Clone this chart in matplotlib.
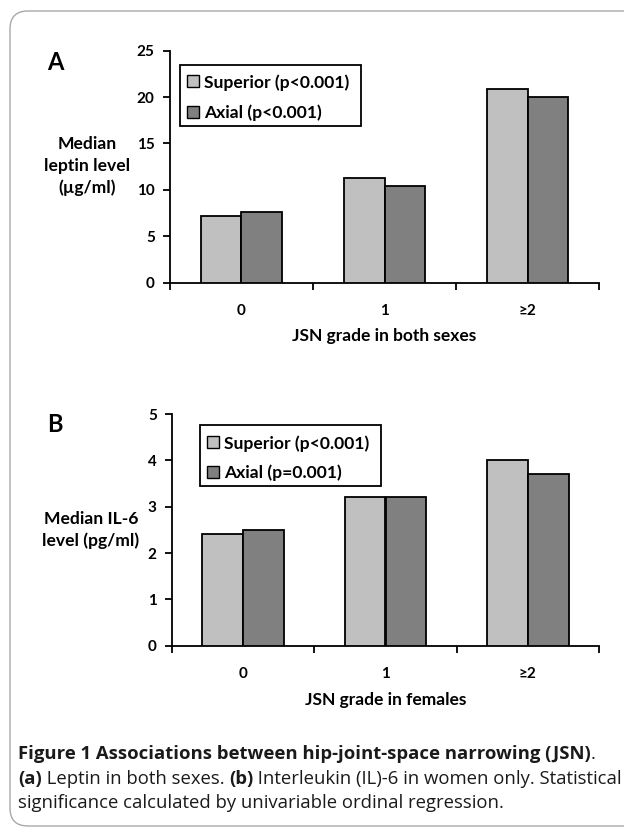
import matplotlib
matplotlib.use("Agg")
import matplotlib.pyplot as plt
from matplotlib.patches import FancyBboxPatch, Rectangle
import numpy as np

categories = ["0", "1", "\u22652"]
leptin_superior = [7.2, 11.3, 20.9]
leptin_axial = [7.6, 10.4, 20.0]
il6_superior = [2.4, 3.2, 4.0]
il6_axial = [2.5, 3.2, 3.7]
legend_a = ["Superior (p<0.001)", "Axial (p<0.001)"]
legend_b = ["Superior (p<0.001)", "Axial (p=0.001)"]

W, H = 624, 834
fig = plt.figure(figsize=(W / 100, H / 100), dpi=100)
fig.patch.set_facecolor("white")

CH = "Lato"
LIGHT = "#c0c0c0"
DARK = "#808080"

def px(x, y):
    return x / W, 1 - y / H

# overlay axes in pixel coordinates (y down)
ov = fig.add_axes([0, 0, 1, 1], zorder=10)
ov.axis("off")
ov.set_xlim(0, W)
ov.set_ylim(H, 0)
ov.patch.set_alpha(0)

# border
border = FancyBboxPatch((10, 11), 660, 815,
                        boxstyle="round,pad=0,rounding_size=18",
                        facecolor="none", edgecolor="#a8a8a8", linewidth=1.0,
                        clip_on=False)
ov.add_patch(border)

def legend(x0, y0, x1, y1, labels, rows_y, hx, tx):
    ov.add_patch(Rectangle((x0, y0), x1 - x0, y1 - y0, facecolor="white",
                           edgecolor="black", linewidth=1.3))
    for lab, col, ry in zip(labels, [LIGHT, DARK], rows_y):
        ov.add_patch(Rectangle((hx, ry - 6), 12, 12, facecolor=col,
                               edgecolor="black", linewidth=1.0))
        ov.text(tx, ry, lab, ha="left", va="center_baseline", fontfamily=CH,
                fontweight="bold", fontsize=12.6)

def panel(left, right, top, bottom, sup, axl, ymax, step, ylabel, ylab_xy,
          xlabel, xlab_y, letter, letter_xy):
    l, b = px(left, bottom)
    ax = fig.add_axes([l, b, (right - left) / W, (bottom - top) / H])
    x = np.arange(len(categories)) + 0.5
    w = 0.286
    ax.bar(x - w / 2, sup, w, color=LIGHT, edgecolor="black", linewidth=1.3, zorder=3)
    ax.bar(x + w / 2, axl, w, color=DARK, edgecolor="black", linewidth=1.3, zorder=3)
    ax.set_xlim(0, 3)
    ax.set_ylim(0, ymax)
    yt = np.arange(0, ymax + 0.01, step)
    ax.set_yticks(yt)
    ax.set_yticklabels([f"{v:g}" for v in yt],
                       fontfamily=CH, fontweight="bold", fontsize=11)
    ax.set_xticks(x)
    ax.set_xticklabels(categories, fontfamily=CH, fontweight="bold", fontsize=11)
    ax.set_xticks([0, 1, 2, 3], minor=True)
    ax.tick_params(axis="x", which="major", length=0, pad=15)
    ax.tick_params(axis="x", which="minor", length=5, width=1.3, direction="out")
    ax.tick_params(axis="y", length=5, width=1.3, direction="out", pad=6)
    for s in ["top", "right"]:
        ax.spines[s].set_visible(False)
    for s in ["left", "bottom"]:
        ax.spines[s].set_linewidth(1.3)
    ov.text(ylab_xy[0], ylab_xy[1], ylabel, ha="center", va="center", fontfamily=CH,
            fontweight="bold", fontsize=12.6, linespacing=1.45)
    ov.text((left + right) / 2, xlab_y, xlabel, ha="center", va="center", fontfamily=CH,
            fontweight="bold", fontsize=12.5)
    ov.text(letter_xy[0], letter_xy[1], letter, ha="center", va="center", fontfamily=CH,
            fontweight="bold", fontsize=17)
    return ax

panel(170, 599, 50.7, 282.7, leptin_superior, leptin_axial, 25, 5,
      "Median\nleptin level\n(\u00b5g/ml)", (87, 166),
      "JSN grade in both sexes", 336, "A", (55, 62))
legend(180, 64.7, 361, 125.7, legend_a, (81, 111.5), 187, 204)

panel(172, 599, 414, 645.7, il6_superior, il6_axial, 5, 1,
      "Median IL-6\nlevel (pg/ml)", (91, 530),
      "JSN grade in females", 700, "B", (55, 424))
legend(200, 425, 381, 486, legend_b, (442, 471.5), 207, 224)

# caption with mixed weights
CF = "Open Sans"
CS = 13.3

def line(parts, x0, ybase):
    prev = None
    for txt, bold in parts:
        kw = dict(fontfamily=CF, fontsize=CS, fontweight="bold" if bold else "normal",
                  color="#1a1a1a")
        if prev is None:
            prev = ov.text(x0, ybase, txt, ha="left", va="baseline", **kw)
        else:
            prev = ov.annotate(txt, xy=(1, 0), xycoords=prev, ha="left", va="bottom", **kw)

line([("Figure 1 Associations between hip-joint-space narrowing (JSN)", True), (".", False)], 18, 759)
line([("(a)", True), (" Leptin in both sexes. ", False), ("(b)", True),
      (" Interleukin (IL)-6 in women only. Statistical", False)], 18, 784)
line([("significance calculated by univariable ordinal regression.", False)], 18, 808)

fig.savefig("out.png", dpi=100, facecolor="white")
